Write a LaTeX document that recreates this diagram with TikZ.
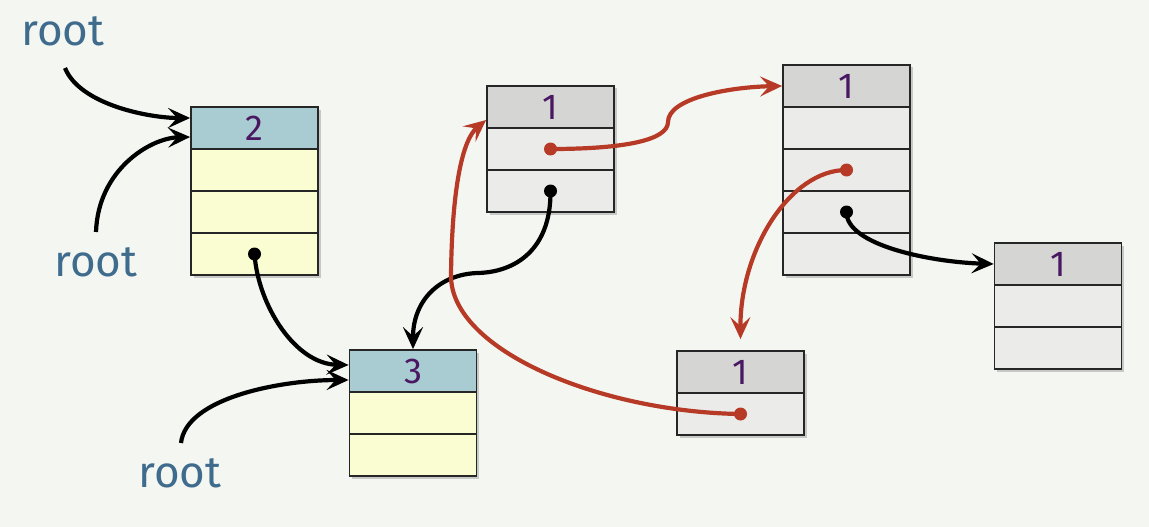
\documentclass[tikz,border=0pt]{standalone}
\usepackage{fontspec}
\setmainfont{Fira Sans}
\usetikzlibrary{arrows.meta,shadows}
\definecolor{bgc}{HTML}{F4F6F2}
\definecolor{hblue}{HTML}{A9CBD2}
\definecolor{ylw}{HTML}{FAFDD2}
\definecolor{hgray}{HTML}{D5D6D4}
\definecolor{rgray}{HTML}{EBECEA}
\definecolor{numc}{HTML}{4A1862}
\definecolor{rootc}{HTML}{3F6C8C}
\definecolor{redc}{HTML}{B63A26}
\tikzset{
  cell/.style={draw=black!85, line width=1.8pt, minimum width=127pt, minimum height=42pt, inner sep=0pt,
    drop shadow={shadow xshift=2.5pt, shadow yshift=-2.5pt, opacity=0.18, fill=black}},
  hdrb/.style={cell, fill=hblue, text=numc, font=\fontsize{36}{38}\selectfont},
  hdrg/.style={cell, fill=hgray, text=numc, font=\fontsize{36}{38}\selectfont},
  yelrow/.style={cell, fill=ylw},
  grayrow/.style={cell, fill=rgray},
  rootlbl/.style={text=rootc, font=\fontsize{44}{46}\selectfont, inner sep=0pt},
  ptr/.style={line width=4.2pt, -{Stealth[length=22pt,width=20pt,inset=9pt]}},
  rptr/.style={ptr, draw=redc, -{Stealth[length=22pt,width=20pt,inset=9pt,fill=redc]}},
  dotb/.style={circle, fill=black, inner sep=0pt, minimum size=13pt},
  dotr/.style={circle, fill=redc, inner sep=0pt, minimum size=13pt}
}
\begin{document}
\begin{tikzpicture}[x=1pt,y=-1pt]
\fill[bgc] (0,0) rectangle (1149,527);
\useasboundingbox (0,0) rectangle (1149,527);

% Box A (root 2)
\node[hdrb] (A0) at (254.5,128) {2};
\node[yelrow] (A1) at (254.5,170) {};
\node[yelrow] (A2) at (254.5,212) {};
\node[yelrow] (A3) at (254.5,254) {};

% Box B (3)
\node[hdrb] (B0) at (413,371) {3};
\node[yelrow] (B1) at (413,413) {};
\node[yelrow] (B2) at (413,455) {};

% Box C (top middle)
\node[hdrg] (C0) at (550.5,107) {1};
\node[grayrow] (C1) at (550.5,149) {};
\node[grayrow] (C2) at (550.5,191) {};

% Box D (big right)
\node[hdrg] (D0) at (846.5,86) {1};
\node[grayrow] (D1) at (846.5,128) {};
\node[grayrow] (D2) at (846.5,170) {};
\node[grayrow] (D3) at (846.5,212) {};
\node[grayrow] (D4) at (846.5,254) {};

% Box E (bottom middle)
\node[hdrg] (E0) at (740.5,372) {1};
\node[grayrow] (E1) at (740.5,414) {};

% Box F (right)
\node[hdrg] (F0) at (1058,264) {1};
\node[grayrow] (F1) at (1058,306) {};
\node[grayrow] (F2) at (1058,348) {};

% root labels
\node[rootlbl] (r1) at (63,31) {root};
\node[rootlbl] (r2) at (96,262) {root};
\node[rootlbl] (r3) at (180,473) {root};
\coordinate (r1s) at (65,68);
\coordinate (r2s) at (96,232);
\coordinate (r3s) at (181,443);

% black pointers
\draw[ptr] (r1s) .. controls (80,105) and (150,118) .. ([yshift=10pt]A0.west);
\draw[ptr] (r2s) .. controls (98,170) and (150,138) .. ([yshift=-9pt]A0.west);
\draw[ptr] (r3s) .. controls (186,398) and (280,380) .. ([yshift=-9pt]B0.west);
\draw[ptr] (A3.center) .. controls (258,305) and (295,364) .. ([yshift=6pt]B0.west);
\draw[ptr] (C2.center) .. controls (551,250) and (515,272) .. (478,273)
   .. controls (440,274) and (413,300) .. (B0.north);
\draw[ptr] (D3.center) .. controls (846,245) and (930,262) .. (F0.west);

% red pointers
\draw[rptr] (C1.center) .. controls (625,149) and (668,140) .. (668,122)
   .. controls (668,98) and (730,87) .. (D0.west);
\draw[rptr] (D2.center) .. controls (790,170) and (740,250) .. ([yshift=11pt]E0.north);
\draw[rptr] (E1.center) .. controls (600,412) and (450,350) .. (451,275)
   .. controls (452,190) and (462,140) .. ([yshift=-13pt]C0.west);

% dots
\node[dotb] at (A3.center) {};
\node[dotb] at (C2.center) {};
\node[dotb] at (D3.center) {};
\node[dotr] at (C1.center) {};
\node[dotr] at (D2.center) {};
\node[dotr] at (E1.center) {};
\end{tikzpicture}
\end{document}
